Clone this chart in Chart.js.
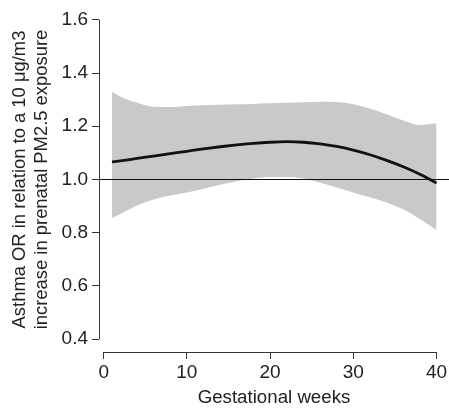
<!DOCTYPE html>
<html>
<head>
<meta charset="utf-8">
<script src="https://cdn.jsdelivr.net/npm/chart.js@4"></script>
<style>
  html, body { margin: 0; padding: 0; background: #fff; }
  #wrap { width: 449px; height: 408px; }
</style>
</head>
<body>
<div id="wrap"><canvas id="orChart"></canvas></div>
<script>
// Data
const weeks = [1, 2, 4, 6, 8, 10, 12, 14, 16, 18, 20, 22, 24, 26, 28, 30, 32, 34, 36, 38, 40];
const orMean = [1.066, 1.070, 1.079, 1.088, 1.097, 1.106, 1.115, 1.123, 1.130, 1.136, 1.140,
                1.142, 1.140, 1.134, 1.124, 1.110, 1.093, 1.072, 1.048, 1.020, 0.987];
const orUpper = [1.330, 1.312, 1.288, 1.273, 1.272, 1.276, 1.279, 1.281, 1.283, 1.284, 1.286,
                 1.288, 1.290, 1.292, 1.291, 1.283, 1.267, 1.245, 1.222, 1.205, 1.211];
const orLower = [0.855, 0.870, 0.902, 0.925, 0.940, 0.951, 0.965, 0.980, 0.993, 1.004, 1.009,
                 1.009, 1.004, 0.988, 0.970, 0.951, 0.933, 0.914, 0.888, 0.852, 0.809];
const xTicks = [0, 10, 20, 30, 40];
const yTicks = [0.4, 0.6, 0.8, 1.0, 1.2, 1.4, 1.6];
const refValue = 1.0;

// axis limits (R style 4% extension)
const X_MIN = -0.56, X_MAX = 41.5;
const Y_MIN = 0.352, Y_MAX = 1.648;

const toPts = arr => weeks.map((w, i) => ({ x: w, y: arr[i] }));

const family = '"Liberation Sans", Arial, Helvetica, sans-serif';
const tickFont = { family: family, size: 19 };
const axisColor = '#333';

// draw axis lines only over the tick range
const rangeAxes = {
    id: 'rangeAxes',
    afterDraw(chart) {
        const { ctx, chartArea, scales } = chart;
        ctx.save();
        ctx.strokeStyle = axisColor;
        ctx.lineWidth = 1;
        ctx.beginPath();
        const xl = Math.round(chartArea.left) + 0.5;
        ctx.moveTo(xl, scales.y.getPixelForValue(yTicks[yTicks.length - 1]));
        ctx.lineTo(xl, scales.y.getPixelForValue(yTicks[0]));
        const yb = Math.round(chartArea.bottom) + 0.5;
        ctx.moveTo(scales.x.getPixelForValue(xTicks[0]), yb);
        ctx.lineTo(scales.x.getPixelForValue(xTicks[xTicks.length - 1]), yb);
        ctx.stroke();
        ctx.restore();
    }
};

new Chart(document.getElementById('orChart'), {
    type: 'line',
    data: {
        datasets: [
            {
                label: 'OR',
                data: toPts(orMean),
                borderColor: '#111',
                borderWidth: 2.8,
                pointRadius: 0,
                cubicInterpolationMode: 'monotone',
                fill: false
            },
            {
                label: 'ref',
                data: [{ x: X_MIN, y: refValue }, { x: X_MAX, y: refValue }],
                borderColor: '#111',
                borderWidth: 1,
                pointRadius: 0,
                fill: false
            },
            {
                label: 'upper',
                data: toPts(orUpper),
                borderColor: 'rgba(0,0,0,0)',
                borderWidth: 0,
                backgroundColor: '#c8c9cb',
                pointRadius: 0,
                cubicInterpolationMode: 'monotone',
                fill: '+1'
            },
            {
                label: 'lower',
                data: toPts(orLower),
                borderColor: 'rgba(0,0,0,0)',
                borderWidth: 0,
                pointRadius: 0,
                cubicInterpolationMode: 'monotone',
                fill: false
            }
        ]
    },
    options: {
        responsive: true,
        maintainAspectRatio: false,
        animation: false,
        layout: { padding: { top: 7, right: 0, left: 0, bottom: 0 } },
        plugins: {
            legend: { display: false },
            tooltip: { enabled: false }
        },
        scales: {
            x: {
                type: 'linear',
                min: X_MIN,
                max: X_MAX,
                afterBuildTicks: s => { s.ticks = xTicks.map(v => ({ value: v })); },
                afterFit: s => { s.height = 56; s.paddingLeft = 0; s.paddingRight = 0; },
                border: { display: false },
                grid: { drawOnChartArea: false, drawTicks: true, tickLength: 7, color: axisColor },
                ticks: { font: tickFont, color: '#222', padding: 2, maxRotation: 0 },
                title: {
                    display: true,
                    text: 'Gestational weeks',
                    font: { family: family, size: 18.7, lineHeight: '20px' },
                    color: '#222',
                    padding: { top: 0, bottom: 0 }
                }
            },
            y: {
                type: 'linear',
                min: Y_MIN,
                max: Y_MAX,
                afterBuildTicks: s => { s.ticks = yTicks.map(v => ({ value: v })); },
                afterFit: s => { s.width = 99; s.paddingTop = 0; s.paddingBottom = 0; },
                border: { display: false },
                grid: { drawOnChartArea: false, drawTicks: true, tickLength: 7, color: axisColor },
                ticks: { font: tickFont, color: '#222', padding: 4, callback: v => v.toFixed(1) },
                title: {
                    display: true,
                    text: ['Asthma OR in relation to a 10 \u03bcg/m3', 'increase in prenatal PM2.5 exposure'],
                    font: { family: family, size: 18.4, lineHeight: '22px' },
                    color: '#222',
                    padding: { top: 9, bottom: 0 }
                }
            }
        }
    },
    plugins: [rangeAxes]
});
</script>
</body>
</html>
